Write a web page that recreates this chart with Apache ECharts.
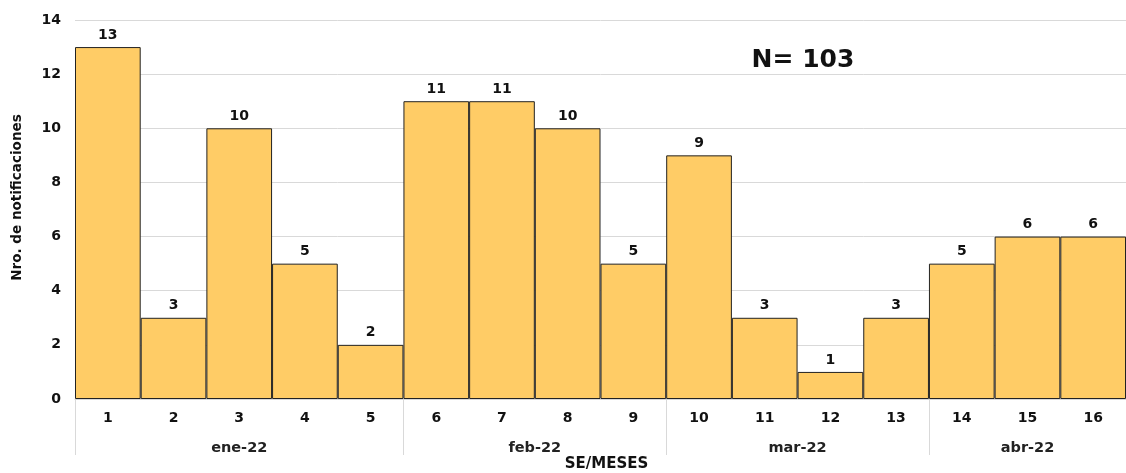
<!DOCTYPE html>
<html><head><meta charset="utf-8">
<script src="https://cdn.jsdelivr.net/npm/echarts@6/dist/echarts.min.js"></script>
<style>html,body{margin:0;padding:0;background:#fff}#c{width:1126px;height:473px}</style>
</head><body><div id="c"></div>
<script>
var weeks = ['1','2','3','4','5','6','7','8','9','10','11','12','13','14','15','16'];
var values = [13,3,10,5,2,11,11,10,5,9,3,1,3,5,6,6];
var months = ['ene-22','feb-22','mar-22','abr-22'];
var monthWeeks = [5,4,4,3];
var yTicks = [0,2,4,6,8,10,12,14];

var bounds = [0]; var centers = [];
monthWeeks.forEach(function(n){ var s = bounds[bounds.length-1]; bounds.push(s+n); centers.push(s+n/2); });

var F = 'DejaVu Sans, Verdana, sans-serif';
var chart = echarts.init(document.getElementById('c'));
chart.setOption({
  animation:false,
  textStyle:{fontFamily:F},
  title:{text:'N= 103', left:798, top:43, textAlign:'center',
    textStyle:{fontFamily:F, fontSize:25, fontWeight:'bold', color:'#111'}},
  grid:{left:75, right:0, top:20, bottom:74, outerBoundsMode:'none', containLabel:false},
  xAxis:[{
    type:'category', data:weeks, position:'bottom',
    axisLine:{show:true, lineStyle:{color:'#d9d9d9'}},
    axisTick:{show:false},
    axisLabel:{fontFamily:F, fontSize:14, fontWeight:'bold', color:'#111', margin:12},
    name:'SE/MESES', nameLocation:'middle', nameGap:58,
    nameTextStyle:{fontFamily:F, fontSize:15, fontWeight:'bold', color:'#111', padding:[0,0,0,12]}
  },{
    type:'value', min:0, max:weeks.length, position:'bottom', gridIndex:0,
    axisLine:{show:false},
    splitLine:{show:false},
    axisTick:{show:true, customValues:bounds, length:56, inside:false, lineStyle:{color:'#d9d9d9'}},
    axisLabel:{show:true, customValues:centers, margin:42, fontFamily:F, fontSize:14.5, fontWeight:'bold', color:'#222',
      formatter:function(v){ var i = centers.indexOf(v); return i>=0 ? months[i] : ''; }}
  }],
  yAxis:{
    type:'value', min:yTicks[0], max:yTicks[yTicks.length-1], interval:2,
    axisLine:{show:false}, axisTick:{show:false},
    splitLine:{lineStyle:{color:'#d9d9d9'}},
    axisLabel:{fontFamily:F, fontSize:14, fontWeight:'bold', color:'#111', margin:14},
    name:'Nro. de notificaciones', nameLocation:'middle', nameGap:51,
    nameTextStyle:{fontFamily:F, fontSize:13.5, fontWeight:'bold', color:'#111', padding:[0,0,0,24]}
  },
  series:[{
    type:'bar', data:values, xAxisIndex:0, barCategoryGap:'0%',
    itemStyle:{color:'#FFCC66', borderColor:'#222', borderWidth:1},
    label:{show:true, position:'top', distance:5, fontFamily:F, fontSize:14, fontWeight:'bold', color:'#111'}
  }]
});
</script></body></html>
